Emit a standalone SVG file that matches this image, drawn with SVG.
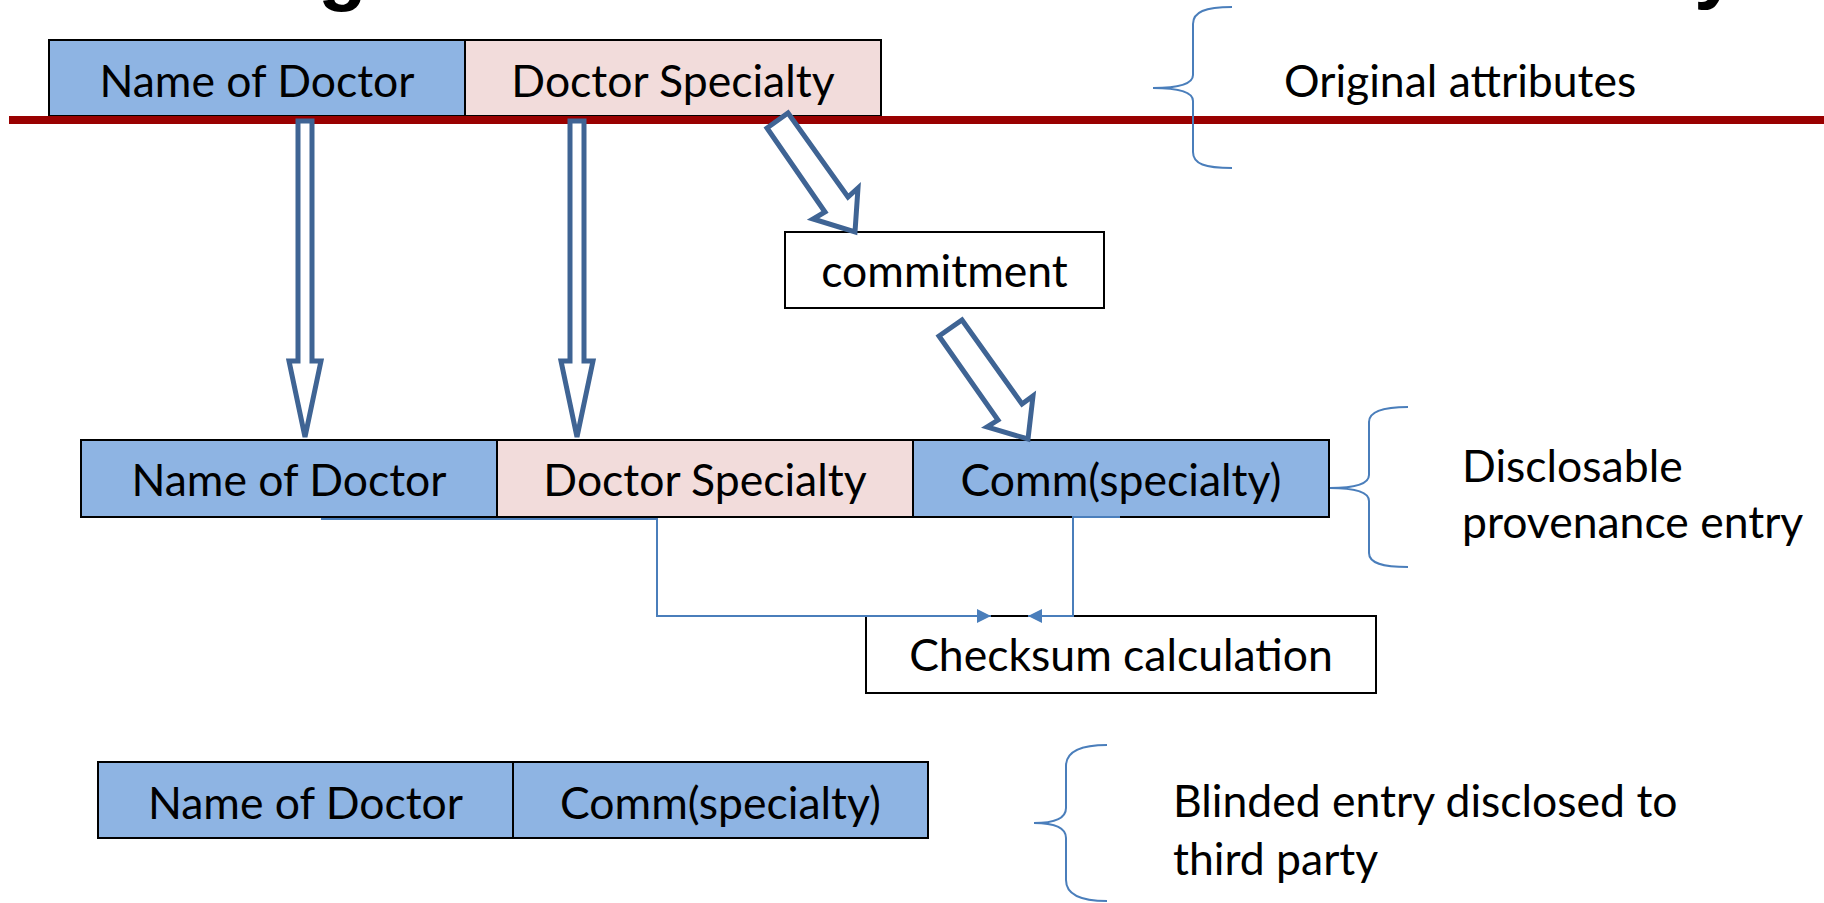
<svg xmlns="http://www.w3.org/2000/svg" width="1824" height="903" viewBox="0 0 1824 903">
<style>
.lbl{font-family:Lato,"Liberation Sans",sans-serif;font-size:44.5px;fill:#000;text-anchor:middle}
.side{font-family:Lato,"Liberation Sans",sans-serif;font-size:44.5px;fill:#000}
.blue{fill:#8eb4e3;stroke:#000;stroke-width:2}
.pink{fill:#f2dcdb;stroke:#000;stroke-width:2}
.white{fill:#fff;stroke:#000;stroke-width:2}
.barrow{fill:#fff;stroke:#3f6494;stroke-width:5;stroke-linejoin:miter}
.conn{fill:none;stroke:#4a7ebb;stroke-width:2}
.brace{fill:none;stroke:#4a7ebb;stroke-width:2}
.title{font-family:"Liberation Sans",sans-serif;font-weight:bold;font-size:80px;fill:#000}
</style>
<defs>
<marker id="tri" markerWidth="14" markerHeight="14" refX="14" refY="7" orient="auto" markerUnits="userSpaceOnUse">
<path d="M0,0 L14,7 L0,14 Z" fill="#4a7ebb"/>
</marker>
</defs>
<rect width="1824" height="903" fill="#fff"/>
<g id="title-fragments">
<text class="title" x="318" y="-5">g</text>
<text class="title" x="1694" y="-7">y</text>
</g>
<g id="original-row">
<rect class="blue" x="49" y="40" width="416" height="76"/>
<text class="lbl" x="257" y="97">Name of Doctor</text>
<rect class="pink" x="465" y="40" width="416" height="76"/>
<text class="lbl" x="673" y="97">Doctor Specialty</text>
</g>
<rect id="red-rule" x="9" y="116" width="1815" height="8" fill="#990000"/>
<g id="brace-original">
<path class="brace" d="M1232,7 C1205,7 1193,12 1193,24 L1193,75 C1193,84 1180,88 1153,88 C1180,88 1193,92 1193,101 L1193,152 C1193,164 1205,168 1232,168"/>
<text class="side" x="1284" y="97">Original attributes</text>
</g>
<g id="commitment">
<rect class="white" x="785" y="232" width="319" height="76"/>
<text class="lbl" x="944.5" y="287">commitment</text>
</g>
<g id="disclosable-row">
<rect class="blue" x="81" y="440" width="416" height="77"/>
<text class="lbl" x="289" y="496">Name of Doctor</text>
<rect class="pink" x="497" y="440" width="416" height="77"/>
<text class="lbl" x="705" y="496">Doctor Specialty</text>
<rect class="blue" x="913" y="440" width="416" height="77"/>
<text class="lbl" x="1121" y="496">Comm(specialty)</text>
</g>
<g id="brace-disclosable">
<path class="brace" d="M1408,407 C1382,407 1369,412 1369,422 L1369,475 C1369,484 1355,488 1330,488 C1355,488 1369,492 1369,501 L1369,553 C1369,563 1382,567 1408,567"/>
<text class="side" x="1462" y="482">Disclosable</text>
<text class="side" x="1462" y="538">provenance entry</text>
</g>
<g id="checksum">
<rect class="white" x="866" y="616" width="510" height="77"/>
<text class="lbl" x="1121" y="671">Checksum calculation</text>
</g>
<g id="blinded-row">
<rect class="blue" x="98" y="762" width="415" height="76"/>
<text class="lbl" x="305.5" y="819">Name of Doctor</text>
<rect class="blue" x="513" y="762" width="415" height="76"/>
<text class="lbl" x="720.5" y="819">Comm(specialty)</text>
</g>
<g id="brace-blinded">
<path class="brace" d="M1107,745 C1080,745 1066,752 1066,766 L1066,808 C1066,818 1054,823 1034,823 C1054,823 1066,828 1066,838 L1066,880 C1066,894 1080,901 1107,901"/>
<text class="side" x="1173" y="817">Blinded entry disclosed to</text>
<text class="side" x="1173" y="875">third party</text>
</g>
<g id="connectors">
<polygon class="barrow" points="298,121 312,121 312,361 321,361 305,437 289,361 298,361"/>
<polygon class="barrow" points="570,121 584,121 584,361 593,361 577,437 561,361 570,361"/>
<polygon class="barrow" points="788,113 848,197 858,188 855,232 813,219 825,212 767,128"/>
<polygon class="barrow" points="962,320 1022,404 1033,396 1028,439 987,427 998,420 939,336"/>
<polyline class="conn" points="321,519 657,519 657,616 991,616" marker-end="url(#tri)"/>
<polyline class="conn" points="1120,517 1073,517 1073,616 1028,616" marker-end="url(#tri)"/>
</g>
</svg>
